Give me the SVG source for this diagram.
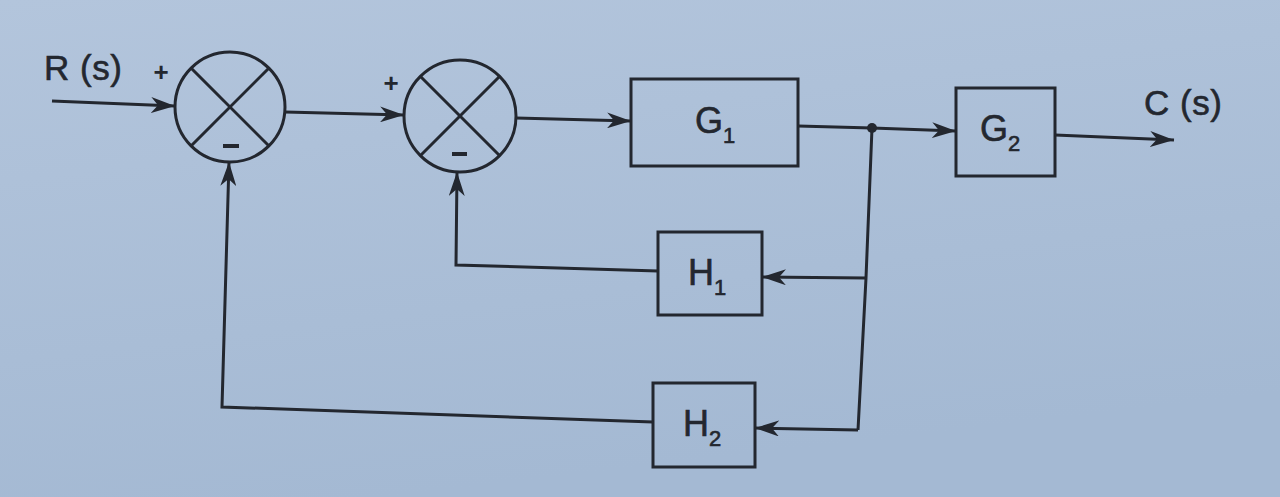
<svg xmlns="http://www.w3.org/2000/svg" width="1280" height="497" viewBox="0 0 1280 497">
  <defs>
    <linearGradient id="bg" x1="0" y1="0" x2="0.3" y2="1">
      <stop offset="0" stop-color="#b3c5dc"/>
      <stop offset="1" stop-color="#a4b9d3"/>
    </linearGradient>
    <marker id="arr" markerUnits="userSpaceOnUse" markerWidth="26" markerHeight="16" refX="24" refY="8" orient="auto">
      <path d="M0,0 L24,8 L0,16 L7,8 Z" fill="#23272f"/>
    </marker>
    <style>
      .ln{fill:none;stroke:#23272f;stroke-width:3;stroke-linejoin:miter}
      .box{fill:none;stroke:#23272f;stroke-width:3}
      .sum{fill:none;stroke:#23272f;stroke-width:3}
      .lbl{font-family:"Liberation Sans",Arial,sans-serif;fill:#23272f;stroke:#23272f;stroke-width:0.6}
      .big{font-size:36px}
      .sub{font-size:22px}
      .sig{font-size:35px;letter-spacing:0.5px}
      .sign{font-size:26px;font-weight:bold;stroke-width:0}
      .minus{fill:none;stroke:#23272f;stroke-width:4}
    </style>
  </defs>
  <rect x="0" y="0" width="1280" height="497" fill="url(#bg)"/>

  <g id="sum1">
    <circle class="sum" cx="230" cy="107" r="55"/>
    <line class="ln" x1="191" y1="68" x2="269" y2="146"/>
    <line class="ln" x1="269" y1="68" x2="191" y2="146"/>
    <text class="lbl sign" x="161" y="81" text-anchor="middle">+</text>
    <line class="minus" x1="223" y1="146" x2="239" y2="146"/>
  </g>

  <g id="sum2">
    <circle class="sum" cx="460" cy="116" r="56"/>
    <line class="ln" x1="420" y1="76" x2="500" y2="156"/>
    <line class="ln" x1="500" y1="76" x2="420" y2="156"/>
    <text class="lbl sign" x="391" y="92" text-anchor="middle">+</text>
    <line class="minus" x1="452" y1="154" x2="467" y2="154"/>
  </g>

  <g id="G1">
    <rect class="box" x="631" y="79" width="167" height="87"/>
    <text class="lbl big" x="695" y="133">G<tspan class="sub" dy="10">1</tspan></text>
  </g>

  <g id="G2">
    <rect class="box" x="956" y="88" width="99" height="88"/>
    <text class="lbl big" x="980" y="141">G<tspan class="sub" dy="10">2</tspan></text>
  </g>

  <g id="H1">
    <rect class="box" x="658" y="232" width="104" height="83"/>
    <text class="lbl big" x="688" y="285">H<tspan class="sub" dy="10">1</tspan></text>
  </g>

  <g id="H2">
    <rect class="box" x="653" y="383" width="102" height="84"/>
    <text class="lbl big" x="683" y="436">H<tspan class="sub" dy="10">2</tspan></text>
  </g>

  <g id="labels">
    <text class="lbl sig" x="44" y="80">R (s)</text>
    <text class="lbl sig" x="1144" y="115">C (s)</text>
  </g>

  <g id="connectors">
    <line class="ln" x1="52" y1="101" x2="175" y2="106" marker-end="url(#arr)"/>
    <line class="ln" x1="285" y1="112" x2="404" y2="115" marker-end="url(#arr)"/>
    <line class="ln" x1="516" y1="118" x2="631" y2="121" marker-end="url(#arr)"/>
    <line class="ln" x1="798" y1="126" x2="872" y2="128"/>
    <line class="ln" x1="872" y1="128" x2="956" y2="131" marker-end="url(#arr)"/>
    <circle cx="872" cy="128" r="5" fill="#23272f"/>
    <line class="ln" x1="1055" y1="135" x2="1174" y2="140" marker-end="url(#arr)"/>
    <polyline class="ln" points="872,128 866,278 858,430"/>
    <line class="ln" x1="866" y1="278" x2="762" y2="277" marker-end="url(#arr)"/>
    <line class="ln" x1="858" y1="430" x2="755" y2="428" marker-end="url(#arr)"/>
    <polyline class="ln" points="658,271 456,265 457,172" marker-end="url(#arr)"/>
    <polyline class="ln" points="653,422 222,407 229,162" marker-end="url(#arr)"/>
  </g>
</svg>
